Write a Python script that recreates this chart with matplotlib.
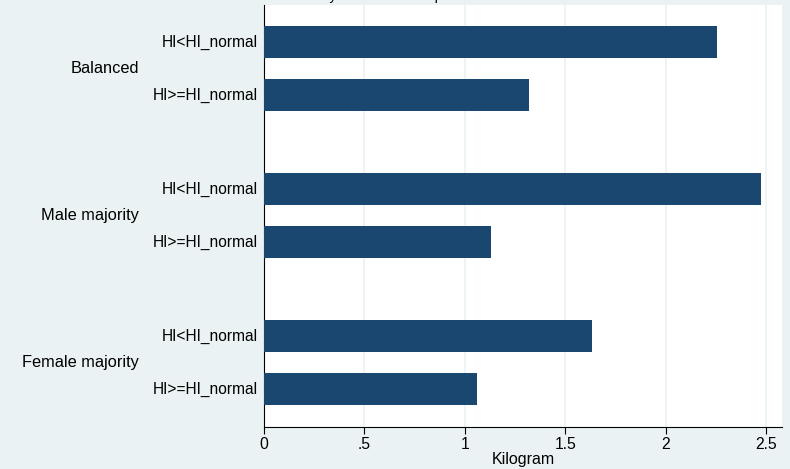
import matplotlib.pyplot as plt
import numpy as np

groups = ['Balanced', 'Male majority', 'Female majority']
bar_labels = ['HI<HI_normal', 'HI>=HI_normal']
hi_low = [2.256, 2.475, 1.633]
hi_high = [1.32, 1.13, 1.06]
xticks = [0, 0.5, 1, 1.5, 2, 2.5]
xtick_labels = ['0', '.5', '1', '1.5', '2', '2.5']
title = 'Food waste by household composition and HI status'

bg = '#EAF2F3'
bar_col = '#1A476F'

plt.rcParams['font.family'] = ['Liberation Sans', 'DejaVu Sans']

fig = plt.figure(figsize=(7.9, 4.69), dpi=100)
fig.patch.set_facecolor(bg)
W, H = 790, 469
top = 5
ax = fig.add_axes([264 / W, 1 - 427 / H, (782 - 264) / W, (427 - top) / H])
ax.set_facecolor('white')

# layout in pixel-like units, top of axes = 0
bar_h = 32
within = 53
group_step = 147
first = 37
pos_low = [first + i * group_step for i in range(len(groups))]
pos_high = [p + within for p in pos_low]

ax.barh(pos_low, hi_low, height=bar_h, color=bar_col, zorder=3)
ax.barh(pos_high, hi_high, height=bar_h, color=bar_col, zorder=3)

ax.set_ylim(422, 0)
ax.set_xlim(0, 2.58)
ax.set_xticks(xticks)
ax.set_xticklabels(xtick_labels, fontsize=11.3)
ax.set_yticks([])
for x in xticks[1:]:
    ax.axvline(x, color=bg, lw=1.2, zorder=1)

for s in ['top', 'right']:
    ax.spines[s].set_visible(False)
ax.spines['left'].set_color('black')
ax.spines['bottom'].set_color('black')
ax.tick_params(axis='x', direction='out', length=5, width=0.8, pad=2)
ax.set_xlabel('Kilogram', fontsize=11.5, labelpad=0)

for i, g in enumerate(groups):
    for p, lab in zip([pos_low[i], pos_high[i]], bar_labels):
        fig.text(258 / W, 1 - (top + p) / H, lab, ha='right', va='center', fontsize=11.2)
    mid = (pos_low[i] + pos_high[i]) / 2
    fig.text(139 / W, 1 - (top + mid) / H, g, ha='right', va='center', fontsize=11.8)

fig.text(407 / W, 1 - 3 / H, title, ha='center', va='bottom', fontsize=10)

fig.savefig('out.png', dpi=100, facecolor=bg)
